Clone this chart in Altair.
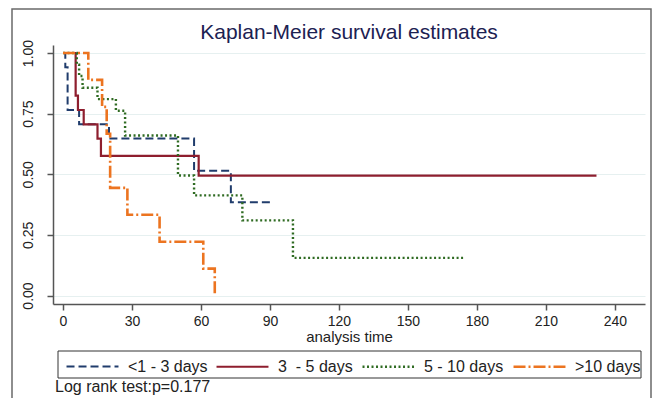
import altair as alt
import pandas as pd

FONT = "Liberation Sans"

groups = ["<1 - 3 days", "3\u00a0 - 5 days", "5 - 10 days", ">10 days"]
colors = ["#203c6c", "#8e1e2e", "#2f6b22", "#ec7420"]
dashes = [[8, 4], [1, 0], [2, 2.5], [12, 3, 2, 3]]
widths = [2, 2.6, 2, 2]

blue_t = [0, 1, 2, 7, 20, 57, 73, 91]
blue_s = [1.0, 0.941, 0.765, 0.706, 0.647, 0.514, 0.385, 0.385]
red_t = [0, 5.5, 6.5, 9, 15, 16.5, 59, 232]
red_s = [1.0, 0.824, 0.765, 0.706, 0.647, 0.576, 0.494, 0.494]
green_t = [0, 6, 7, 8.5, 15, 23, 27, 50, 57, 78, 100, 174]
green_s = [1.0, 0.952, 0.905, 0.857, 0.81, 0.762, 0.66, 0.495, 0.413, 0.31, 0.155, 0.155]
orange_t = [0, 11, 17, 19, 20.5, 28, 42, 61, 66]
orange_s = [1.0, 0.889, 0.778, 0.667, 0.444, 0.333, 0.222, 0.111, 0.0]

x_ticks = [0, 30, 60, 90, 120, 150, 180, 210, 240]
y_ticks = [0, 0.25, 0.5, 0.75, 1.0]

rows = []
for g, ts, ss in zip(groups, [blue_t, red_t, green_t, orange_t], [blue_s, red_s, green_s, orange_s]):
    for t, s in zip(ts, ss):
        rows.append({"group": g, "time": t, "surv": s})
df = pd.DataFrame(rows)
one = pd.DataFrame({"a": [0]})

lines = alt.Chart(df).mark_line(interpolate="step-after", strokeCap="butt").encode(
    x=alt.X("time:Q", scale=alt.Scale(domain=[-4.35, 253.1], nice=False, zero=False),
            axis=alt.Axis(values=x_ticks, title="analysis time", grid=False)),
    y=alt.Y("surv:Q", scale=alt.Scale(domain=[-0.035, 1.033], nice=False, zero=False),
            axis=alt.Axis(values=y_ticks, format=".2f", title=None, grid=True,
                          labelAngle=-90, labelAlign="center", labelBaseline="bottom")),
    color=alt.Color("group:N", scale=alt.Scale(domain=groups, range=colors), title=None),
    strokeDash=alt.StrokeDash("group:N", scale=alt.Scale(domain=groups, range=dashes), title=None),
    strokeWidth=alt.StrokeWidth("group:N", scale=alt.Scale(domain=groups, range=widths), title=None),
)

frame = alt.Chart(one).mark_rect(fillOpacity=0, stroke="#6a6a6a", strokeWidth=1.5).encode(
    x=alt.value(-41), x2=alt.value(598), y=alt.value(-36), y2=alt.value(420)
)

legend_box = alt.Chart(one).mark_rect(fillOpacity=0, stroke="#333333", strokeWidth=1).encode(
    x=alt.value(5), x2=alt.value(588), y=alt.value(306), y2=alt.value(333)
)

note = alt.Chart(one).mark_text(
    text="Log rank test:p=0.177", align="left", baseline="middle", fontSize=16, font=FONT, color="#222222"
).encode(x=alt.value(2), y=alt.value(342))

chart = alt.layer(frame, legend_box, lines, note).properties(
    width=592, height=259,
    autosize=alt.AutoSizeParams(type="none"),
    padding={"left": 45, "top": 37, "right": 7, "bottom": 94},
    title=alt.TitleParams("Kaplan-Meier survival estimates", fontSize=21, font=FONT,
                          fontWeight="normal", color="#1c2152", anchor="middle", offset=4, dy=39),
).configure_view(stroke=None).configure_axis(
    domainColor="#555555", domainWidth=1.5, tickColor="#555555", tickWidth=1.5, tickSize=6,
    labelFont=FONT, labelFontSize=14, labelColor="#222222", labelPadding=12,
    titleFont=FONT, titleFontSize=15, titleFontWeight="normal", titleColor="#222222",
    gridColor="#e6f0f0", gridWidth=1,
).configure_axisX(labelPadding=4, titlePadding=1, labelFontSize=14).configure_legend(
    orient="none", legendX=12, legendY=294, direction="horizontal", columns=4,
    padding=0, symbolType="stroke", symbolSize=2700,
    symbolStrokeWidth=2, labelFont=FONT, labelFontSize=16, labelColor="#222222",
    labelOffset=8, columnPadding=4, labelLimit=200,
)

chart.save("out.html", embed_options={"renderer": "svg", "actions": False})
